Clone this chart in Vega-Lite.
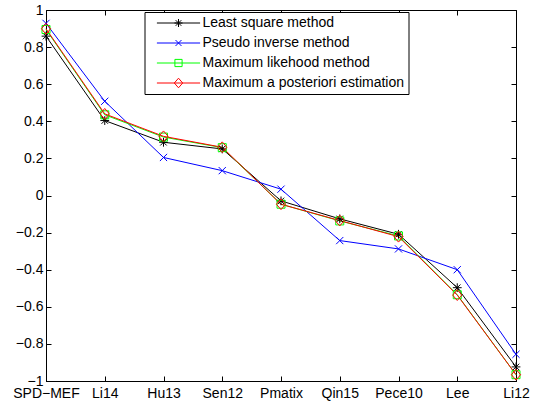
{
  "$schema": "https://vega.github.io/schema/vega-lite/v6.json",
  "autosize": "none",
  "width": 470,
  "height": 371,
  "padding": {"left": 46, "top": 10, "right": 29, "bottom": 24},
  "background": "white",
  "config": {
    "view": {"stroke": "black", "strokeWidth": 1},
    "axis": {
      "grid": false,
      "domainColor": "black",
      "domainWidth": 1,
      "tickColor": "black",
      "tickWidth": 1,
      "tickSize": -5,
      "labelColor": "black",
      "labelFont": "Liberation Sans",
      "labelFontSize": 14,
      "title": null
    }
  },
  "data": {
    "values": [
      {"method": "\u00a0Least square method", "marker": "star", "model": "SPD\u2212MEF", "value": 0.859},
      {"method": "\u00a0Least square method", "marker": "star", "model": "Li14", "value": 0.404},
      {"method": "\u00a0Least square method", "marker": "star", "model": "Hu13", "value": 0.287},
      {"method": "\u00a0Least square method", "marker": "star", "model": "Sen12", "value": 0.251},
      {"method": "\u00a0Least square method", "marker": "star", "model": "Pmatix", "value": -0.029},
      {"method": "\u00a0Least square method", "marker": "star", "model": "Qin15", "value": -0.126},
      {"method": "\u00a0Least square method", "marker": "star", "model": "Pece10", "value": -0.209},
      {"method": "\u00a0Least square method", "marker": "star", "model": "Lee", "value": -0.497},
      {"method": "\u00a0Least square method", "marker": "star", "model": "Li12", "value": -0.924},
      {"method": "Pseudo inverse method", "marker": "x", "model": "SPD\u2212MEF", "value": 0.928},
      {"method": "Pseudo inverse method", "marker": "x", "model": "Li14", "value": 0.508},
      {"method": "Pseudo inverse method", "marker": "x", "model": "Hu13", "value": 0.205},
      {"method": "Pseudo inverse method", "marker": "x", "model": "Sen12", "value": 0.134},
      {"method": "Pseudo inverse method", "marker": "x", "model": "Pmatix", "value": 0.034},
      {"method": "Pseudo inverse method", "marker": "x", "model": "Qin15", "value": -0.243},
      {"method": "Pseudo inverse method", "marker": "x", "model": "Pece10", "value": -0.288},
      {"method": "Pseudo inverse method", "marker": "x", "model": "Lee", "value": -0.4},
      {"method": "Pseudo inverse method", "marker": "x", "model": "Li12", "value": -0.856},
      {"method": "Maximum likehood method", "marker": "square", "model": "SPD\u2212MEF", "value": 0.895},
      {"method": "Maximum likehood method", "marker": "square", "model": "Li14", "value": 0.435},
      {"method": "Maximum likehood method", "marker": "square", "model": "Hu13", "value": 0.315},
      {"method": "Maximum likehood method", "marker": "square", "model": "Sen12", "value": 0.258},
      {"method": "Maximum likehood method", "marker": "square", "model": "Pmatix", "value": -0.047},
      {"method": "Maximum likehood method", "marker": "square", "model": "Qin15", "value": -0.137},
      {"method": "Maximum likehood method", "marker": "square", "model": "Pece10", "value": -0.218},
      {"method": "Maximum likehood method", "marker": "square", "model": "Lee", "value": -0.535},
      {"method": "Maximum likehood method", "marker": "square", "model": "Li12", "value": -0.966},
      {"method": "Maximum a posteriori estimation", "marker": "diamond", "model": "SPD\u2212MEF", "value": 0.899},
      {"method": "Maximum a posteriori estimation", "marker": "diamond", "model": "Li14", "value": 0.44},
      {"method": "Maximum a posteriori estimation", "marker": "diamond", "model": "Hu13", "value": 0.319},
      {"method": "Maximum a posteriori estimation", "marker": "diamond", "model": "Sen12", "value": 0.26},
      {"method": "Maximum a posteriori estimation", "marker": "diamond", "model": "Pmatix", "value": -0.047},
      {"method": "Maximum a posteriori estimation", "marker": "diamond", "model": "Qin15", "value": -0.135},
      {"method": "Maximum a posteriori estimation", "marker": "diamond", "model": "Pece10", "value": -0.222},
      {"method": "Maximum a posteriori estimation", "marker": "diamond", "model": "Lee", "value": -0.537},
      {"method": "Maximum a posteriori estimation", "marker": "diamond", "model": "Li12", "value": -0.966}
    ]
  },
  "resolve": {"axis": {"x": "independent", "y": "independent"}},
  "layer": [
    {
      "mark": {"type": "line", "strokeWidth": 1},
      "encoding": {
        "x": {
          "field": "model", "type": "ordinal",
          "sort": ["SPD\u2212MEF", "Li14", "Hu13", "Sen12", "Pmatix", "Qin15", "Pece10", "Lee", "Li12"],
          "scale": {"type": "point", "padding": 0},
          "axis": {"orient": "bottom", "labelAngle": 0, "labelPadding": 10, "labelFlush": false, "labelOverlap": false}
        },
        "y": {
          "field": "value", "type": "quantitative",
          "scale": {"domain": [-1, 1], "nice": false, "zero": false},
          "axis": {"orient": "left", "values": [-1, -0.8, -0.6, -0.4, -0.2, 0, 0.2, 0.4, 0.6, 0.8, 1], "format": ".1~f", "labelPadding": 8}
        },
        "color": {
          "field": "method", "type": "nominal",
          "scale": {
            "domain": ["\u00a0Least square method", "Pseudo inverse method", "Maximum likehood method", "Maximum a posteriori estimation"],
            "range": ["#000000", "#0000ff", "#00ff00", "#ff0000"]
          },
          "legend": {
            "title": null,
            "orient": "none",
            "legendX": 98.5,
            "legendY": 2,
            "strokeColor": "black",
            "fillColor": "white",
            "padding": 4,
            "labelFont": "Liberation Sans",
            "labelFontSize": 14,
            "labelColor": "black",
            "labelLimit": 400,
            "symbolSize": 64,
            "symbolStrokeWidth": 1,
            "symbolOffset": 23,
            "labelOffset": 17,
            "rowPadding": 6,
            "encode": {
              "symbols": {
                "update": {
                  "shape": {"signal": "datum.value === '\u00a0Least square method' ? 'M-5.4,0H5.4M-1,0H1M0,-1V1M-0.7,-0.7L0.7,0.7M-0.7,0.7L0.7,-0.7' : datum.value === 'Pseudo inverse method' ? 'M-5.4,0H5.4M-0.75,-0.75L0.75,0.75M-0.75,0.75L0.75,-0.75' : datum.value === 'Maximum likehood method' ? 'M-5.4,0H5.4M-0.9,-0.9H0.9V0.9H-0.9Z' : 'M-5.4,0H5.4M0,-1.2L1.05,0L0,1.2L-1.05,0Z'"},
                  "fill": {"value": "transparent"},
                  "strokeWidth": {"value": 1}
                }
              }
            }
          }
        }
      }
    },
    {
      "mark": {"type": "point", "filled": false, "strokeWidth": 1, "size": 64, "opacity": 1},
      "encoding": {
        "x": {
          "field": "model", "type": "ordinal",
          "sort": ["SPD\u2212MEF", "Li14", "Hu13", "Sen12", "Pmatix", "Qin15", "Pece10", "Lee", "Li12"],
          "scale": {"type": "point", "padding": 0},
          "axis": {"orient": "top", "labels": false, "domain": false}
        },
        "y": {
          "field": "value", "type": "quantitative",
          "scale": {"domain": [-1, 1], "nice": false, "zero": false},
          "axis": {"orient": "right", "labels": false, "domain": false, "values": [-1, -0.8, -0.6, -0.4, -0.2, 0, 0.2, 0.4, 0.6, 0.8, 1]}
        },
        "color": {"field": "method", "type": "nominal"},
        "shape": {
          "field": "marker", "type": "nominal",
          "scale": {
            "domain": ["star", "x", "square", "diamond"],
            "range": [
              "M-1.1,0H1.1M0,-1.1V1.1M-0.8,-0.8L0.8,0.8M-0.8,0.8L0.8,-0.8",
              "M-0.9,-0.9L0.9,0.9M-0.9,0.9L0.9,-0.9",
              "M-1,-1H1V1H-1Z",
              "M0,-1.35L1.15,0L0,1.35L-1.15,0Z"
            ]
          },
          "legend": null
        }
      }
    }
  ]
}
